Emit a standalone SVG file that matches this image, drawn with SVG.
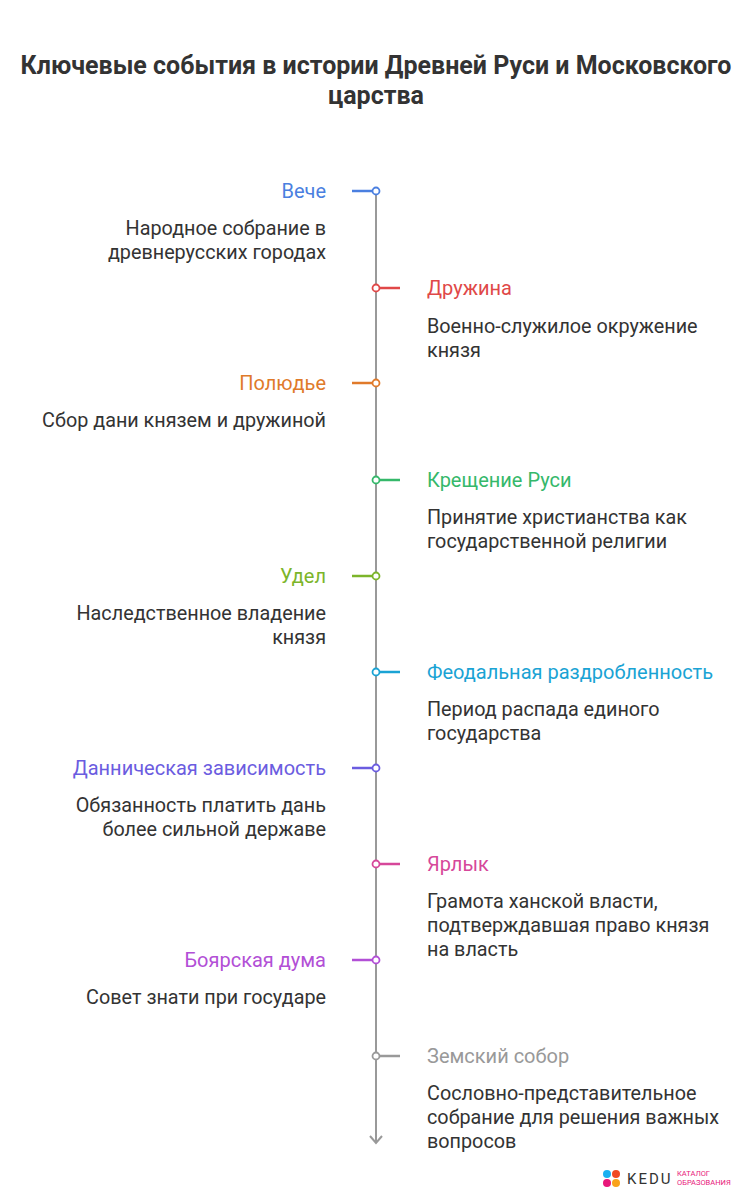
<svg xmlns="http://www.w3.org/2000/svg" width="753" height="1200" viewBox="0 0 753 1200">
<style>
text{font-family:Roboto,"Liberation Sans",sans-serif}
.t{font-size:25px;font-weight:bold;fill:#333;text-anchor:middle}
.h{font-size:20px}
.d{font-size:19.8px;fill:#333}
.l{text-anchor:end}
.tk{stroke-width:2.5}
.dot{fill:#fff;stroke-width:1.8}
</style>
<rect width="753" height="1200" fill="#fff"/>
<text class="t" x="376" y="74">Ключевые события в истории Древней Руси и Московского</text>
<text class="t" x="376" y="104">царства</text>
<g id="connectors">
<line x1="376" y1="191" x2="376" y2="1143" stroke="#999" stroke-width="2"/>
<polyline points="370,1136 376,1143 382,1136" fill="none" stroke="#999" stroke-width="2"/>
</g>
<g id="n1"><line class="tk" x1="352" y1="191" x2="376" y2="191" stroke="#4a7fe0"/><circle class="dot" cx="376" cy="191" r="3.5" stroke="#4a7fe0"/><text class="h l" x="326" y="198" fill="#4a7fe0">Вече</text><text class="d l" x="326" y="235">Народное собрание в</text><text class="d l" x="326" y="259">древнерусских городах</text></g>
<g id="n2"><line class="tk" x1="376" y1="288" x2="400" y2="288" stroke="#e04848"/><circle class="dot" cx="376" cy="288" r="3.5" stroke="#e04848"/><text class="h" x="427" y="295" fill="#e04848">Дружина</text><text class="d" x="427" y="333">Военно-служилое окружение</text><text class="d" x="427" y="357">князя</text></g>
<g id="n3"><line class="tk" x1="352" y1="383" x2="376" y2="383" stroke="#e07a2a"/><circle class="dot" cx="376" cy="383" r="3.5" stroke="#e07a2a"/><text class="h l" x="326" y="390" fill="#e07a2a">Полюдье</text><text class="d l" x="326" y="427">Сбор дани князем и дружиной</text></g>
<g id="n4"><line class="tk" x1="376" y1="480" x2="400" y2="480" stroke="#35b86a"/><circle class="dot" cx="376" cy="480" r="3.5" stroke="#35b86a"/><text class="h" x="427" y="487" fill="#35b86a">Крещение Руси</text><text class="d" x="427" y="524">Принятие христианства как</text><text class="d" x="427" y="548">государственной религии</text></g>
<g id="n5"><line class="tk" x1="352" y1="576" x2="376" y2="576" stroke="#7cb52a"/><circle class="dot" cx="376" cy="576" r="3.5" stroke="#7cb52a"/><text class="h l" x="326" y="583" fill="#7cb52a">Удел</text><text class="d l" x="326" y="620">Наследственное владение</text><text class="d l" x="326" y="644">князя</text></g>
<g id="n6"><line class="tk" x1="376" y1="672" x2="400" y2="672" stroke="#1aa3d4"/><circle class="dot" cx="376" cy="672" r="3.5" stroke="#1aa3d4"/><text class="h" x="427" y="679" fill="#1aa3d4">Феодальная раздробленность</text><text class="d" x="427" y="716">Период распада единого</text><text class="d" x="427" y="740">государства</text></g>
<g id="n7"><line class="tk" x1="352" y1="768" x2="376" y2="768" stroke="#6b5ce0"/><circle class="dot" cx="376" cy="768" r="3.5" stroke="#6b5ce0"/><text class="h l" x="326" y="775" fill="#6b5ce0">Данническая зависимость</text><text class="d l" x="326" y="812">Обязанность платить дань</text><text class="d l" x="326" y="836">более сильной державе</text></g>
<g id="n8"><line class="tk" x1="376" y1="864" x2="400" y2="864" stroke="#d6479a"/><circle class="dot" cx="376" cy="864" r="3.5" stroke="#d6479a"/><text class="h" x="427" y="871" fill="#d6479a">Ярлык</text><text class="d" x="427" y="908">Грамота ханской власти,</text><text class="d" x="427" y="932">подтверждавшая право князя</text><text class="d" x="427" y="956">на власть</text></g>
<g id="n9"><line class="tk" x1="352" y1="960" x2="376" y2="960" stroke="#b24fd6"/><circle class="dot" cx="376" cy="960" r="3.5" stroke="#b24fd6"/><text class="h l" x="326" y="967" fill="#b24fd6">Боярская дума</text><text class="d l" x="326" y="1004">Совет знати при государе</text></g>
<g id="n10"><line class="tk" x1="376" y1="1056" x2="400" y2="1056" stroke="#999"/><circle class="dot" cx="376" cy="1056" r="3.5" stroke="#999"/><text class="h" x="427" y="1063" fill="#999">Земский собор</text><text class="d" x="427" y="1100">Сословно-представительное</text><text class="d" x="427" y="1124">собрание для решения важных</text><text class="d" x="427" y="1148">вопросов</text></g>
<g id="logo">
<circle cx="607" cy="1174" r="4" fill="#1ab0f0"/><circle cx="616" cy="1174" r="4" fill="#f04a23"/><circle cx="607" cy="1183" r="4" fill="#e8177a"/><circle cx="616" cy="1183" r="4" fill="#f9a21b"/>
<text x="627" y="1184" font-size="15" fill="#333" letter-spacing="2">KEDU</text>
<text x="677" y="1176" font-size="7.5" fill="#e8177a">КАТАЛОГ</text>
<text x="677" y="1185" font-size="7.5" fill="#e8177a">ОБРАЗОВАНИЯ</text>
</g>
</svg>
